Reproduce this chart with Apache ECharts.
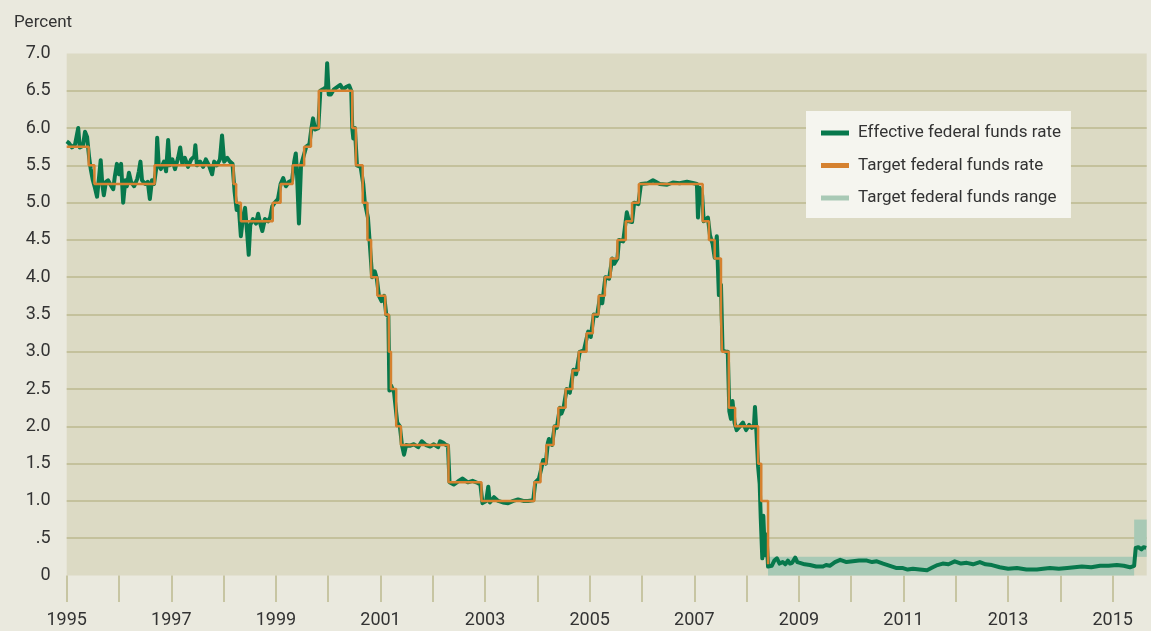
<!DOCTYPE html>
<html>
<head>
<meta charset="utf-8">
<style>
  html, body { margin: 0; padding: 0; background: #eae9de; }
  #chart { width: 1151px; height: 631px; }
</style>
<script src="https://cdn.jsdelivr.net/npm/echarts@6/dist/echarts.min.js"></script>
</head>
<body>
<div id="chart"></div>
<script>
// effective federal funds rate (decimal years)
const effDates = [
  1995.55, 1995.59, 1995.65, 1995.71, 1995.77, 1995.80, 1995.86, 1995.90, 1995.94, 1995.98,
  1996.01, 1996.05, 1996.09, 1996.13, 1996.17, 1996.20, 1996.23, 1996.26, 1996.30, 1996.34,
  1996.38, 1996.44, 1996.47, 1996.51, 1996.55, 1996.59, 1996.63, 1996.67, 1996.70, 1996.74,
  1996.78, 1996.84, 1996.90, 1996.93, 1996.96, 1996.99, 1997.05, 1997.10, 1997.14, 1997.18,
  1997.22, 1997.26, 1997.28, 1997.31, 1997.35, 1997.41, 1997.45, 1997.49, 1997.52, 1997.57,
  1997.62, 1997.68, 1997.72, 1997.76, 1997.81, 1997.87, 1997.93, 1997.99, 1998.01, 1998.04,
  1998.10, 1998.16, 1998.21, 1998.27, 1998.33, 1998.37, 1998.42, 1998.48, 1998.52, 1998.56,
  1998.62, 1998.67, 1998.72, 1998.76, 1998.80, 1998.84, 1998.88, 1998.92, 1998.96, 1999.00,
  1999.03, 1999.06, 1999.11, 1999.17, 1999.21, 1999.25, 1999.29, 1999.34, 1999.40, 1999.44,
  1999.48, 1999.53, 1999.59, 1999.64, 1999.69, 1999.74, 1999.80, 1999.86, 1999.90, 1999.93,
  1999.95, 1999.99, 2000.03, 2000.07, 2000.13, 2000.19, 2000.23, 2000.26, 2000.30, 2000.36,
  2000.40, 2000.45, 2000.51, 2000.53, 2000.56, 2000.60, 2000.66, 2000.72, 2000.78, 2000.83,
  2000.89, 2000.95, 2000.99, 2001.01, 2001.03, 2001.06, 2001.10, 2001.17, 2001.22, 2001.25,
  2001.31, 2001.34, 2001.39, 2001.44, 2001.48, 2001.52, 2001.57, 2001.62, 2001.66, 2001.70,
  2001.72, 2001.75, 2001.81, 2001.87, 2001.92, 2001.96, 2002.00, 2002.04, 2002.11, 2002.19,
  2002.27, 2002.34, 2002.42, 2002.50, 2002.57, 2002.65, 2002.69, 2002.75, 2002.80, 2002.84,
  2002.87, 2002.95, 2003.03, 2003.12, 2003.22, 2003.31, 2003.41, 2003.46, 2003.50, 2003.57,
  2003.61, 2003.64, 2003.72, 2003.80, 2003.89, 2003.99, 2004.09, 2004.18, 2004.28, 2004.37,
  2004.47, 2004.51, 2004.58, 2004.63, 2004.66, 2004.71, 2004.75, 2004.77, 2004.83, 2004.88,
  2004.92, 2004.98, 2005.01, 2005.05, 2005.11, 2005.17, 2005.24, 2005.29, 2005.36, 2005.44,
  2005.52, 2005.57, 2005.63, 2005.69, 2005.75, 2005.79, 2005.85, 2005.92, 2005.98, 2006.02,
  2006.08, 2006.11, 2006.19, 2006.26, 2006.30, 2006.36, 2006.40, 2006.48, 2006.53, 2006.66,
  2006.76, 2006.89, 2007.03, 2007.14, 2007.27, 2007.41, 2007.54, 2007.60, 2007.62, 2007.65,
  2007.70, 2007.73, 2007.81, 2007.85, 2007.90, 2007.94, 2007.98, 2008.02, 2008.06, 2008.09,
  2008.15, 2008.19, 2008.22, 2008.25, 2008.28, 2008.32, 2008.36, 2008.42, 2008.48, 2008.54,
  2008.60, 2008.65, 2008.69, 2008.71, 2008.74, 2008.77, 2008.80, 2008.82, 2008.85, 2008.87,
  2008.90, 2008.93, 2008.96, 2009.03, 2009.08, 2009.13, 2009.18, 2009.24, 2009.29, 2009.34,
  2009.38, 2009.42, 2009.48, 2009.52, 2009.57, 2009.66, 2009.76, 2009.88, 2010.01, 2010.07,
  2010.14, 2010.24, 2010.34, 2010.46, 2010.58, 2010.70, 2010.85, 2010.95, 2011.04, 2011.16,
  2011.29, 2011.42, 2011.54, 2011.63, 2011.73, 2011.86, 2012.00, 2012.11, 2012.20, 2012.30,
  2012.41, 2012.53, 2012.65, 2012.76, 2012.88, 2013.01, 2013.12, 2013.24, 2013.39, 2013.55,
  2013.72, 2013.90, 2014.10, 2014.22, 2014.35, 2014.52, 2014.68, 2014.82, 2014.96, 2015.14,
  2015.31, 2015.47, 2015.63, 2015.76, 2015.88, 2015.96, 2015.99, 2016.04, 2016.10, 2016.14,
  2016.19
];
const effRates = [
  5.82, 5.80, 5.74, 5.78, 6.00, 5.74, 5.76, 5.95, 5.88, 5.60,
  5.45, 5.30, 5.20, 5.08, 5.35, 5.57, 5.25, 5.10, 5.28, 5.30,
  5.25, 5.18, 5.35, 5.52, 5.38, 5.52, 5.00, 5.30, 5.22, 5.40,
  5.28, 5.22, 5.32, 5.42, 5.55, 5.30, 5.25, 5.28, 5.05, 5.30,
  5.25, 5.45, 5.87, 5.50, 5.45, 5.55, 5.42, 5.84, 5.50, 5.58,
  5.45, 5.60, 5.74, 5.52, 5.60, 5.48, 5.58, 5.62, 5.77, 5.50,
  5.55, 5.48, 5.58, 5.50, 5.38, 5.55, 5.50, 5.58, 5.90, 5.55,
  5.60, 5.55, 5.52, 5.15, 4.90, 4.95, 4.55, 4.80, 4.93, 4.60,
  4.30, 4.70, 4.78, 4.72, 4.85, 4.72, 4.62, 4.78, 4.75, 4.80,
  4.95, 5.00, 5.05, 5.25, 5.33, 5.22, 5.28, 5.30, 5.55, 5.66,
  5.45, 4.72, 5.50, 5.60, 5.75, 5.78, 6.00, 6.13, 5.98, 6.00,
  6.50, 6.52, 6.55, 6.87, 6.45, 6.45, 6.52, 6.55, 6.58, 6.52,
  6.55, 6.57, 6.50, 6.00, 5.86, 6.00, 5.50, 5.48, 5.25, 5.00,
  4.80, 4.50, 4.00, 4.08, 3.98, 3.75, 3.68, 3.75, 3.50, 3.48,
  2.48, 2.55, 2.45, 2.05, 2.00, 1.75, 1.62, 1.75, 1.74, 1.76,
  1.72, 1.80, 1.75, 1.73, 1.76, 1.72, 1.80, 1.78, 1.75, 1.74,
  1.25, 1.22, 1.26, 1.30, 1.25, 1.27, 1.24, 1.22, 0.97, 1.00,
  1.19, 0.98, 1.05, 1.00, 0.98, 0.97, 1.00, 1.02, 1.00, 1.00,
  1.01, 1.25, 1.30, 1.45, 1.55, 1.50, 1.78, 1.83, 1.75, 2.00,
  1.98, 2.25, 2.17, 2.25, 2.50, 2.45, 2.76, 2.70, 3.00, 3.02,
  3.27, 3.20, 3.50, 3.48, 3.75, 3.65, 4.00, 3.98, 4.25, 4.18,
  4.25, 4.50, 4.48, 4.87, 4.75, 4.74, 5.00, 4.98, 5.25, 5.26,
  5.30, 5.25, 5.24, 5.27, 5.26, 5.28, 5.26, 5.25, 4.80, 5.20,
  5.10, 4.75, 4.80, 4.56, 4.45, 4.26, 4.55, 3.76, 3.90, 3.02,
  3.00, 3.00, 2.20, 2.10, 2.34, 2.05, 1.95, 2.00, 2.05, 1.95,
  2.02, 1.98, 2.00, 2.26, 1.90, 1.46, 1.23, 0.78, 0.23, 0.80,
  0.27, 0.55, 0.12, 0.13, 0.20, 0.23, 0.16, 0.18, 0.15, 0.20,
  0.16, 0.17, 0.24, 0.18, 0.17, 0.15, 0.14, 0.12, 0.12, 0.14,
  0.13, 0.18, 0.21, 0.18, 0.19, 0.20, 0.20, 0.18, 0.19, 0.16,
  0.13, 0.10, 0.10, 0.08, 0.09, 0.08, 0.07, 0.11, 0.14, 0.16,
  0.15, 0.19, 0.16, 0.17, 0.15, 0.18, 0.15, 0.14, 0.11, 0.09,
  0.10, 0.08, 0.08, 0.09, 0.10, 0.09, 0.10, 0.11, 0.12, 0.11,
  0.13, 0.13, 0.14, 0.13, 0.11, 0.13, 0.37, 0.38, 0.35, 0.38,
  0.37
];

// target rate: value holds from each date until the next one
const targetDates = [
  1995.55, 1995.97, 1996.08, 1997.23, 1998.74, 1998.79, 1998.88, 1999.49, 1999.64, 1999.87,
  2000.09, 2000.22, 2000.37, 2001.01, 2001.08, 2001.21, 2001.30, 2001.37, 2001.49, 2001.64,
  2001.71, 2001.75, 2001.85, 2001.94, 2002.85, 2003.48, 2004.49, 2004.61, 2004.72, 2004.86,
  2004.95, 2005.09, 2005.22, 2005.34, 2005.49, 2005.61, 2005.72, 2005.84, 2005.95, 2006.08,
  2006.24, 2006.36, 2006.49, 2007.71, 2007.83, 2007.94, 2008.06, 2008.08, 2008.21, 2008.33,
  2008.77, 2008.83, 2008.96
];
const targetRates = [
  5.75, 5.50, 5.25, 5.50, 5.25, 5.00, 4.75, 5.00, 5.25, 5.50,
  5.75, 6.00, 6.50, 6.00, 5.50, 5.00, 4.50, 4.00, 3.75, 3.50,
  3.00, 2.50, 2.00, 1.75, 1.25, 1.00, 1.25, 1.50, 1.75, 2.00,
  2.25, 2.50, 2.75, 3.00, 3.25, 3.50, 3.75, 4.00, 4.25, 4.50,
  4.75, 5.00, 5.25, 4.75, 4.50, 4.25, 3.50, 3.00, 2.25, 2.00,
  1.50, 1.00, 0.15
];

// target range blocks
const rangeStarts = [2008.96, 2015.96];
const rangeEnds = [2015.96, 2016.2];
const rangeLows = [0, 0.25];
const rangeHighs = [0.25, 0.75];

const tickYears = [1995, 1996, 1997, 1998, 1999, 2000, 2001, 2002, 2003, 2004,
  2005, 2006, 2007, 2008, 2009, 2010, 2011, 2012, 2013, 2014, 2015];
const labelYears = [1995, 1997, 1999, 2001, 2003, 2005, 2007, 2009, 2011, 2013, 2015];

// in this chart the year ticks sit a bit past mid-year
const TICK_SHIFT = 0.55;

const GREEN = "#07784c";
const ORANGE = "#d5812f";
const RANGE = "#a8c9b5";
const FONT = "Roboto, 'Noto Sans', sans-serif";

const chart = echarts.init(document.getElementById("chart"));

const option = {
  backgroundColor: "#eae9de",
  animation: false,
  textStyle: { fontFamily: FONT },
  title: {
    text: "Percent",
    left: 9,
    top: 9,
    textStyle: { fontSize: 17, fontWeight: "normal", color: "#333", fontFamily: FONT },
  },
  grid: {
    left: 66.7,
    right: 4.3,
    top: 53.5,
    bottom: 55.5,
    show: true,
    backgroundColor: "#dcdac4",
    borderWidth: 0,
  },
  legend: {
    orient: "vertical",
    left: 806,
    top: 111,
    backgroundColor: "#f5f5ef",
    borderWidth: 0,
    padding: [12, 10, 10, 15],
    itemGap: 12.5,
    itemWidth: 28,
    itemHeight: 5,
    icon: "rect",
    data: ["Effective federal funds rate", "Target federal funds rate", "Target federal funds range"],
    textStyle: { fontSize: 17, color: "#333", lineHeight: 20, padding: [0, 0, 0, 4], fontFamily: FONT },
  },
  xAxis: {
    type: "value",
    min: 1995 + TICK_SHIFT,
    max: 2016.2,
    axisLine: { show: false },
    splitLine: { show: false },
    axisTick: {
      show: true,
      length: 26.5,
      customValues: tickYears.map((y) => y + TICK_SHIFT),
      lineStyle: { color: "#bcb98f", width: 1.5 },
    },
    axisLabel: {
      customValues: labelYears.map((y) => y + TICK_SHIFT),
      formatter: (v) => String(Math.round(v - TICK_SHIFT)),
      margin: 36,
      fontSize: 18,
      color: "#333",
      fontFamily: FONT,
    },
  },
  yAxis: {
    type: "value",
    min: 0,
    max: 7,
    interval: 0.5,
    axisLine: { show: false },
    axisTick: { show: false },
    splitLine: {
      show: true,
      showMinLine: false,
      showMaxLine: false,
      lineStyle: { color: "#bcb98f", width: 1.5 },
    },
    axisLabel: {
      margin: 16,
      fontSize: 18,
      color: "#333",
      fontFamily: FONT,
      formatter: (v) => (v === 0 ? "0" : v < 1 ? ".5" : v.toFixed(1)),
    },
  },
  series: [
    {
      name: "Target federal funds range",
      type: "line",
      data: [],
      itemStyle: { color: RANGE },
      z: 1,
      markArea: {
        silent: true,
        itemStyle: { color: RANGE, opacity: 1 },
        data: rangeStarts.map((s, i) => [
          { coord: [s, rangeLows[i]] },
          { coord: [rangeEnds[i], rangeHighs[i]] },
        ]),
      },
    },
    {
      name: "Effective federal funds rate",
      type: "line",
      showSymbol: false,
      data: effDates.map((d, i) => [d, effRates[i]]),
      itemStyle: { color: GREEN },
      lineStyle: { color: GREEN, width: 4, join: "round" },
      z: 3,
    },
    {
      name: "Target federal funds rate",
      type: "line",
      step: "end",
      showSymbol: false,
      data: targetDates.map((d, i) => [d, targetRates[i]]),
      itemStyle: { color: ORANGE },
      lineStyle: { color: ORANGE, width: 2.5 },
      z: 4,
    },
  ],
};

chart.setOption(option);
</script>
</body>
</html>
